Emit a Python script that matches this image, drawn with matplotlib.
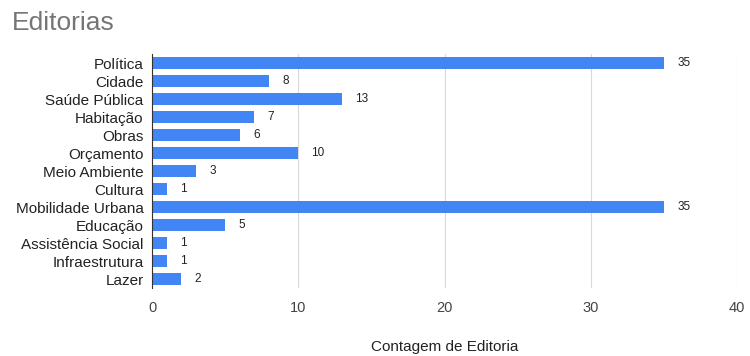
import matplotlib.pyplot as plt

plt.rcParams['font.family'] = ['Liberation Sans', 'DejaVu Sans']

# contagem por editoria
editorias = ['Política', 'Cidade', 'Saúde Pública', 'Habitação', 'Obras', 'Orçamento',
             'Meio Ambiente', 'Cultura', 'Mobilidade Urbana', 'Educação',
             'Assistência Social', 'Infraestrutura', 'Lazer']
contagem = [35, 8, 13, 7, 6, 10, 3, 1, 35, 5, 1, 1, 2]

azul = '#4285f4'

fig = plt.figure(figsize=(7.5, 3.56), dpi=100)
ax = fig.add_axes([0.2027, 0.191, 0.78, 0.657])

pos = list(range(len(editorias)))
ax.barh(pos, contagem, height=0.68, color=azul, zorder=3)
for p, v in zip(pos, contagem):
    ax.text(v + 0.9, p, str(v), va='center', ha='left', fontsize=8.5, color='#222222')

ax.set_ylim(len(editorias) - 0.5, -0.5)
ax.set_xlim(0, 40)
ax.set_xticks([0, 10, 20, 30, 40])
ax.set_yticks(pos)
ax.set_yticklabels(editorias, fontsize=11, color='#222222')
ax.tick_params(axis='x', labelsize=10.5, colors='#444444', length=0, pad=9)
ax.tick_params(axis='y', length=0, pad=6)
ax.grid(axis='x', color='#d9d9d9', linewidth=0.8, zorder=0)

for s in ['top', 'right', 'bottom']:
    ax.spines[s].set_visible(False)
ax.spines['left'].set_color('#333333')
ax.spines['left'].set_linewidth(0.8)
ax.spines['left'].set_zorder(4)

ax.set_xlabel('Contagem de Editoria', fontsize=11, color='#222222', labelpad=18)
fig.text(0.016, 0.935, 'Editorias', fontsize=19, color='#757575', va='center', ha='left')

fig.savefig('out.png', dpi=100)
